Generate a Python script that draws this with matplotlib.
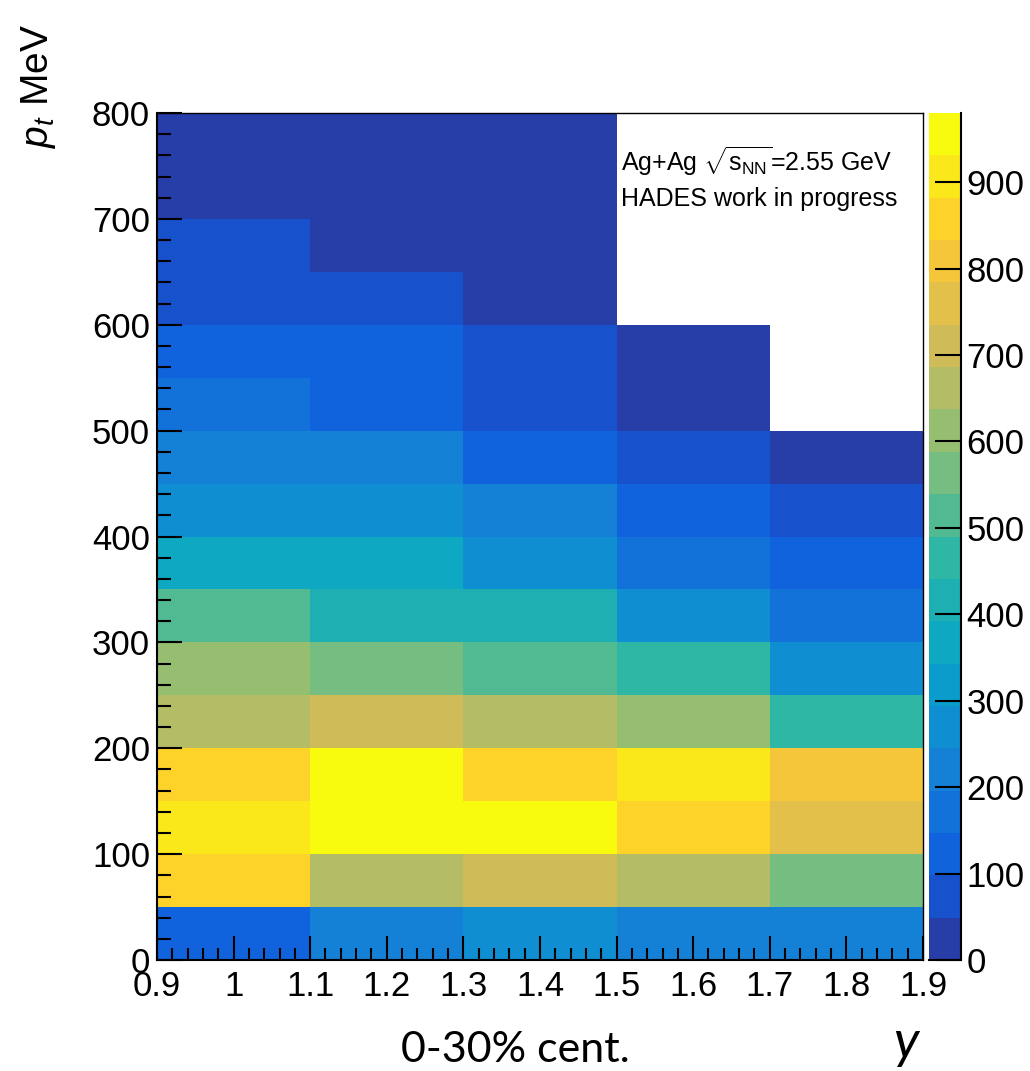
import numpy as np
import matplotlib
matplotlib.use('Agg')
import matplotlib.pyplot as plt
from matplotlib.colors import LinearSegmentedColormap, ListedColormap, BoundaryNorm
from matplotlib.ticker import MultipleLocator, FuncFormatter

plt.rcParams['font.family'] = ['Liberation Sans', 'DejaVu Sans']
plt.rcParams['mathtext.fontset'] = 'custom'
plt.rcParams['mathtext.rm'] = 'Liberation Sans'
plt.rcParams['mathtext.it'] = 'Liberation Sans:italic'

# bin edges: rapidity y and transverse momentum pt (MeV)
y_edges = [0.9, 1.1, 1.3, 1.5, 1.7, 1.9]
pt_edges = list(range(0, 801, 50))

nan = np.nan
# counts in each rapidity bin, pt bins from 0 upward (nan = empty bin)
y_09_11 = [120, 860, 905, 860, 660, 610, 515, 365, 270, 220, 170, 120, 75, 75, 20, 20]
y_11_13 = [220, 660, 960, 960, 710, 565, 415, 365, 270, 220, 120, 120, 75, 20, 20, 20]
y_13_15 = [270, 710, 960, 860, 660, 515, 415, 270, 220, 120, 75, 75, 20, 20, 20, 20]
y_15_17 = [220, 660, 860, 905, 610, 465, 270, 170, 120, 75, 20, 20, nan, nan, nan, nan]
y_17_19 = [220, 565, 760, 810, 465, 270, 170, 120, 75, 20, nan, nan, nan, nan, nan, nan]

z_max = 980
cbar_ticks = list(range(0, 901, 100))

z = np.array([y_09_11, y_11_13, y_13_15, y_15_17, y_17_19]).T
z = np.ma.masked_invalid(z)

# ROOT kBird palette, 20 contour levels
stops = [0.0, 0.125, 0.25, 0.375, 0.5, 0.625, 0.75, 0.875, 1.0]
red = [0.2082, 0.0592, 0.0780, 0.0232, 0.1802, 0.5301, 0.8186, 0.9956, 0.9764]
green = [0.1664, 0.3599, 0.5041, 0.6419, 0.7178, 0.7492, 0.7328, 0.7862, 0.9832]
blue = [0.5293, 0.8684, 0.8385, 0.7914, 0.6425, 0.4662, 0.3499, 0.1968, 0.0539]
bird = LinearSegmentedColormap.from_list('kBird', list(zip(stops, zip(red, green, blue))))
ncont = 20
cmap = ListedColormap([bird((i + 0.99) / ncont) for i in range(ncont)])
cmap.set_bad('white')
norm = BoundaryNorm(np.linspace(0, z_max, ncont + 1), ncont)

fig = plt.figure(figsize=(10.3, 10.71), dpi=100)
ax = fig.add_axes([0.1524, 0.1036, 0.7437, 0.7909])
mesh = ax.pcolormesh(y_edges, pt_edges, z, cmap=cmap, norm=norm)
ax.set_xlim(0.9, 1.9)
ax.set_ylim(0, 800)

ax.xaxis.set_major_locator(MultipleLocator(0.1))
ax.xaxis.set_minor_locator(MultipleLocator(0.02))
ax.yaxis.set_major_locator(MultipleLocator(100))
ax.yaxis.set_minor_locator(MultipleLocator(20))
ax.xaxis.set_major_formatter(FuncFormatter(lambda v, p: '%g' % round(v, 2)))
ax.tick_params(which='both', direction='in', top=False, right=False, width=1.5, labelsize=25)
ax.tick_params(axis='x', which='major', length=17, pad=7)
ax.tick_params(axis='x', which='minor', length=9)
ax.tick_params(axis='y', which='major', length=18, pad=5)
ax.tick_params(axis='y', which='minor', length=10)
for s in ['left', 'bottom']:
    ax.spines[s].set_linewidth(1.5)
for s in ['top', 'right']:
    ax.spines[s].set_linewidth(1.0)

# palette axis
cax = fig.add_axes([0.9019, 0.1036, 0.0311, 0.7909])
cb = fig.colorbar(mesh, cax=cax, ticks=cbar_ticks)
cb.outline.set_visible(False)
cax.plot([1, 1], [0, 1], transform=cax.transAxes, color='k', lw=1.5, clip_on=False)
cax.plot([0, 1], [0, 0], transform=cax.transAxes, color='k', lw=1.5, clip_on=False)
cax.tick_params(direction='in', length=19, width=1.5, labelsize=25, pad=4)
cax.minorticks_off()

ax.text(0.606, 0.962, r'Ag+Ag $\sqrt{\mathrm{s}_{\mathrm{NN}}}$=2.55 GeV',
        transform=ax.transAxes, fontsize=18, va='top')
ax.text(0.606, 0.913, 'HADES work in progress', transform=ax.transAxes, fontsize=18, va='top')

fig.text(38 / 1030, 1 - 86 / 1071, r'$p_{t}$ MeV', rotation=90, fontsize=28,
         ha='center', va='center')
fig.text(515 / 1030, 1 - 1050 / 1071, '0-30% cent.', family=['Lato', 'DejaVu Sans'],
         fontsize=31, ha='center', va='center')
fig.text(906 / 1030, 1 - 1043 / 1071, 'y', family=['Lato', 'DejaVu Sans'], style='italic',
         fontsize=38, ha='center', va='center')

fig.savefig('out.png', dpi=100)
